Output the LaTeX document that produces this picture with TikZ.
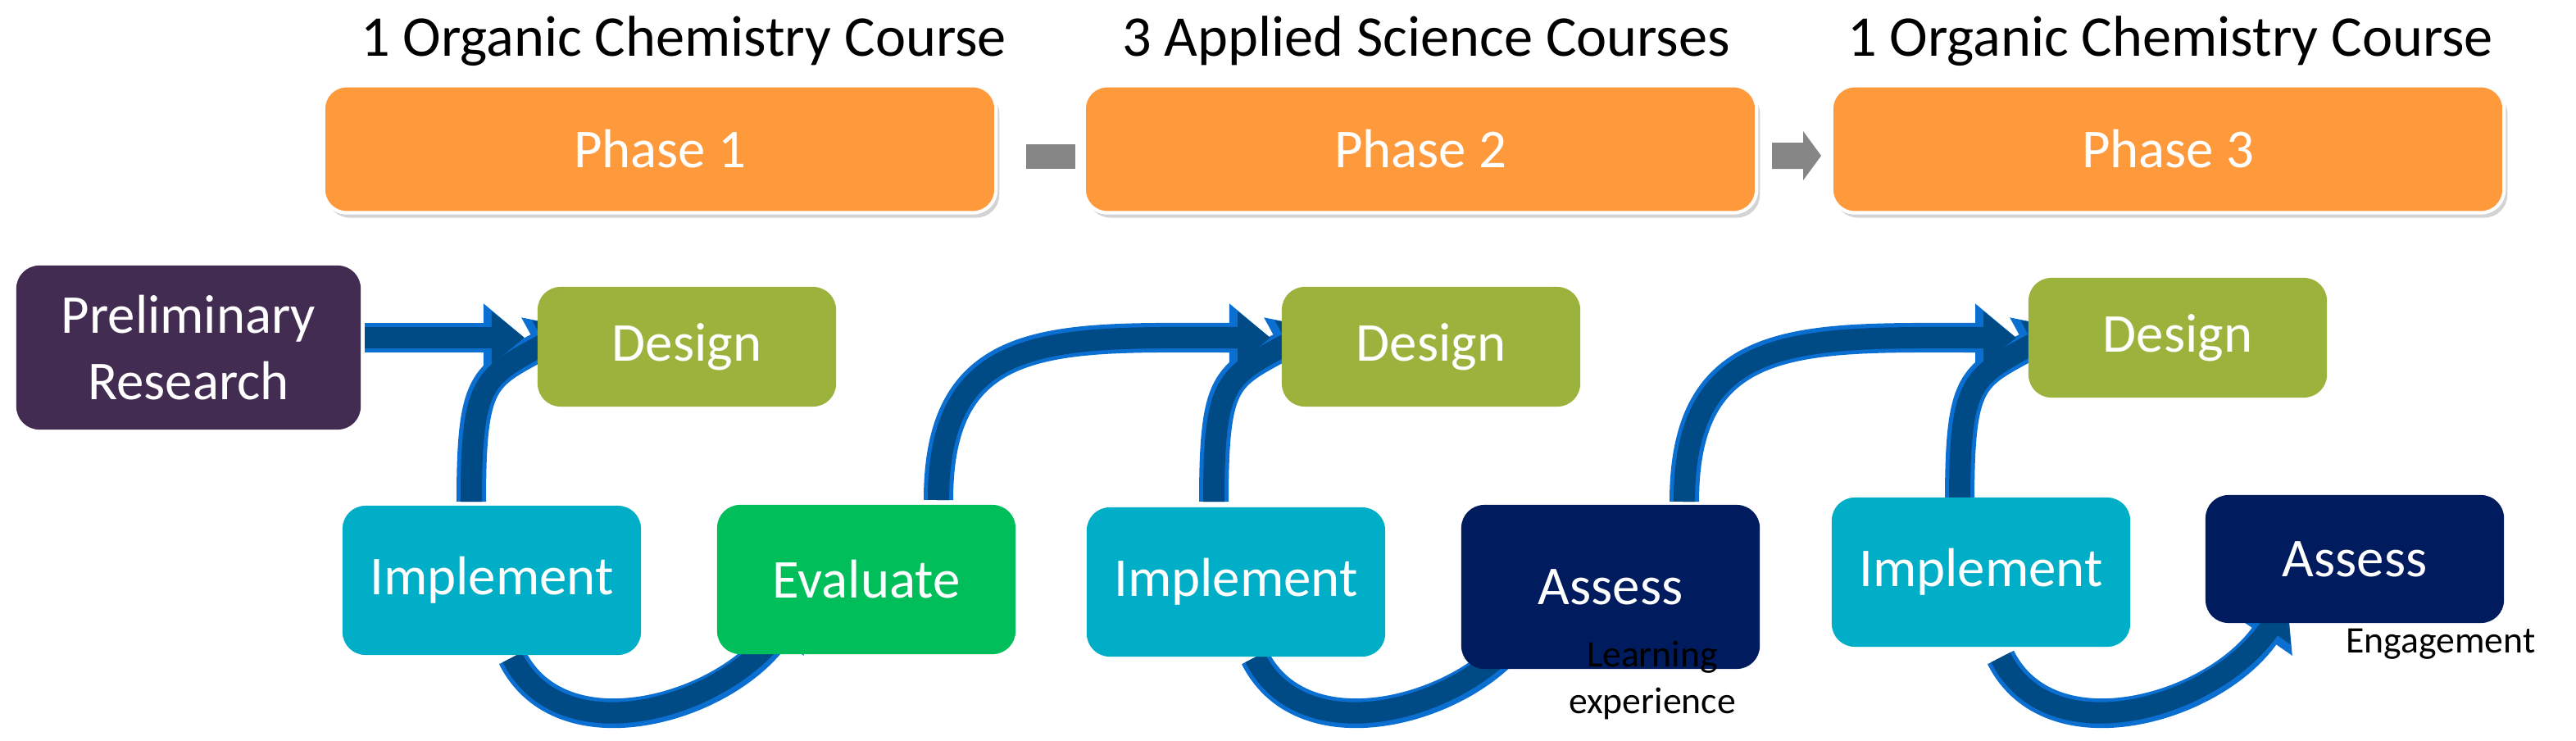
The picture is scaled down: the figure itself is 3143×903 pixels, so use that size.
\documentclass[tikz,border=0pt]{standalone}
\usepackage{fontspec}
\setmainfont{Carlito}
\usetikzlibrary{arrows.meta,shadows,calc}
\definecolor{orng}{HTML}{FF9A3C}
\definecolor{prel}{HTML}{432C52}
\definecolor{desg}{HTML}{9BB33D}
\definecolor{impl}{HTML}{00AEC7}
\definecolor{eval}{HTML}{00BE5A}
\definecolor{asse}{HTML}{001B5E}
\definecolor{arin}{HTML}{004A85}
\definecolor{arout}{HTML}{0A6FD0}
\tikzset{
 box/.style={rounded corners=0.28cm,minimum width=#1,text=white,font=\fontsize{19}{23}\selectfont,align=center,inner sep=0},
 phase/.style={box=8.2cm,fill=orng,minimum height=1.55cm,draw=white,line width=1.2pt,drop shadow={opacity=0.35,shadow xshift=0.04cm,shadow yshift=-0.06cm}},
 low/.style={box=3.64cm,minimum height=1.82cm},
 ttl/.style={font=\fontsize{20}{24}\selectfont},
 lab/.style={font=\fontsize{13}{16}\selectfont,align=center},
 aro/.style={line width=0.36cm,arout,-{Triangle[length=0.5cm,width=0.8cm]}},
 ari/.style={line width=0.26cm,arin,-{Triangle[length=0.4cm,width=0.62cm]}},
}
\begin{document}
\begin{tikzpicture}[x=0.01cm,y=-0.01cm]
\useasboundingbox (0,0) rectangle (3143,903);
% titles
\node[ttl] (t1) at (834,50) {1 Organic Chemistry Course};
\node[ttl] (t2) at (1740,50) {3 Applied Science Courses};
\node[ttl] (t3) at (2648,50) {1 Organic Chemistry Course};
% phase connectors
\fill[gray!95] (1252,176) rectangle (1312,206);
\fill[gray!95] (2162,174) -- (2200,174) -- (2200,160) -- (2222,190) -- (2200,220) -- (2200,206) -- (2162,206) -- cycle;
\node[phase] (p1) at (805,182) {Phase 1};
\node[phase] (p2) at (1733,182) {Phase 2};
\node[phase] (p3) at (2645,182) {Phase 3};
% coordinates for arrows
\coordinate (a0) at (445,412);
\coordinate (a0e) at (640,412);
\foreach \dx/\nm in {0/A,906/B,1816/C}{
 \coordinate (\nm s) at ({575+\dx},612);
 \coordinate (\nm e) at ({700+\dx},400);
 \coordinate (\nm b) at ({625+\dx},802);
 \coordinate (\nm be) at ({975+\dx},735);
}
\coordinate (Es) at (1145,610);
\coordinate (Ee) at (1550,412);
\coordinate (Fs) at (2055,612);
\coordinate (Fe) at (2460,412);
\foreach \st in {aro,ari}{
 \draw[\st] (a0) -- (a0e);
 \foreach \nm in {A,B,C}{
  \draw[\st] (\nm s) .. controls ($(\nm s)+(0,-150)$) and ($(\nm e)+(-110,60)$) .. (\nm e);
  \draw[\st] (\nm b) .. controls ($(\nm b)+(60,120)$) and ($(\nm be)+(-90,130)$) .. (\nm be);
 }
 \draw[\st] (Es) .. controls ($(Es)+(0,-210)$) and ($(Ee)+(-260,0)$) .. (Ee);
 \draw[\st] (Fs) .. controls ($(Fs)+(0,-210)$) and ($(Fe)+(-260,0)$) .. (Fe);
}
% boxes
\node[low,fill=prel,minimum width=4.2cm,minimum height=2.0cm] (pr) at (230,424) {Preliminary\\Research};
\node[low,fill=desg,minimum height=1.46cm] (d1) at (838,423) {Design};
\node[low,fill=impl] (i1) at (600,708) {Implement};
\node[low,fill=eval] (ev) at (1057,707) {Evaluate};
\node[low,fill=desg,minimum height=1.46cm] (d2) at (1746,423) {Design};
\node[low,fill=impl] (i2) at (1508,710) {Implement};
\node[low,fill=asse,minimum height=2.0cm] (as1) at (1965,716) {Assess};
\node[low,fill=desg,minimum height=1.46cm] (d3) at (2657,412) {Design};
\node[low,fill=impl] (i3) at (2417,698) {Implement};
\node[low,fill=asse,minimum height=1.56cm] (as2) at (2873,682) {Assess};
% labels
\node[lab] (l1) at (2016,830) {Learning\\experience};
\node[lab] (l2) at (2978,786) {Engagement};
\end{tikzpicture}
\end{document}
